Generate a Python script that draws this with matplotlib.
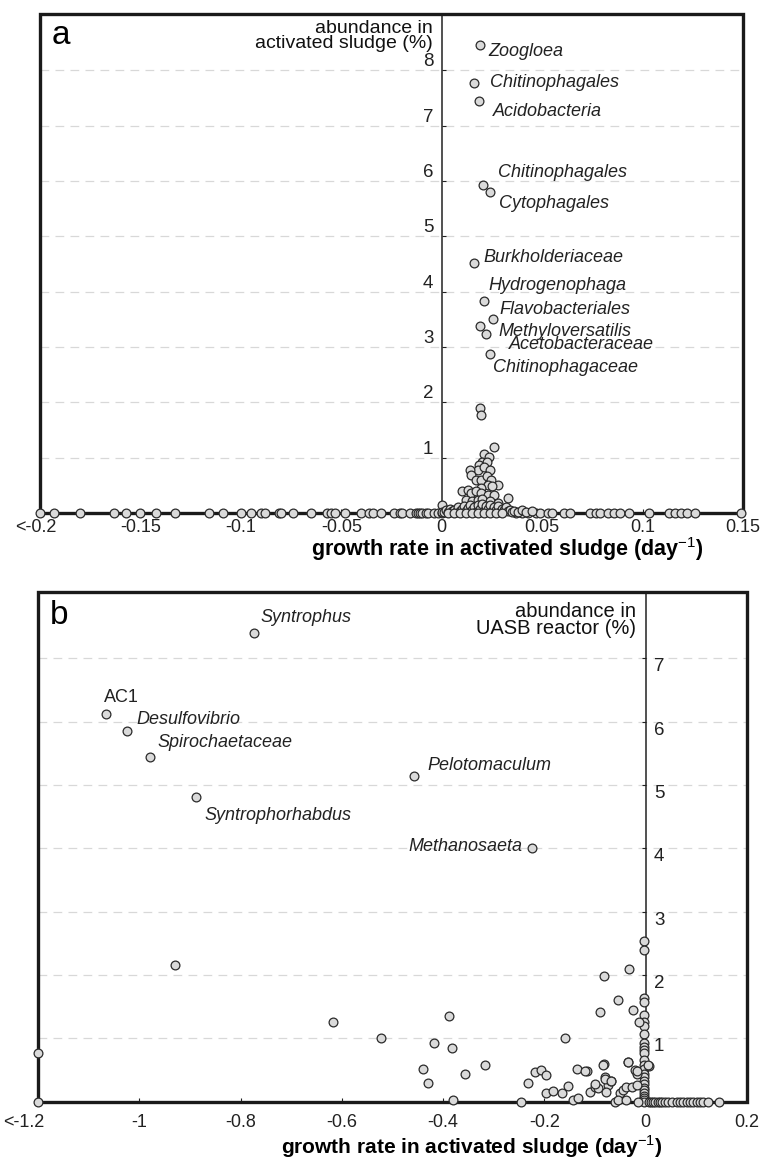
import matplotlib
matplotlib.use('Agg')
import matplotlib.pyplot as plt
from matplotlib.patches import Rectangle
from matplotlib.transforms import ScaledTranslation

plt.rcParams['font.family'] = ['Liberation Sans', 'DejaVu Sans']
plt.rcParams['mathtext.fontset'] = 'custom'
plt.rcParams['mathtext.rm'] = 'Liberation Sans'
plt.rcParams['mathtext.bf'] = 'Liberation Sans:bold'

# ---------------- panel a: activated sludge ----------------
# taxa sitting on the x axis (abundance ~ 0)
a_axis_rate = [-0.200, -0.193, -0.180, -0.163, -0.157, -0.150, -0.142, -0.133, -0.116, -0.109,
               -0.100, -0.095, -0.090, -0.088, -0.081, -0.080, -0.074, -0.065, -0.057, -0.055,
               -0.053, -0.048, -0.040, -0.036, -0.034, -0.030, -0.024, -0.021, -0.020, -0.016,
               -0.013, -0.012, -0.011, -0.010, -0.008, -0.007, -0.004, -0.002, 0.0, 0.037,
               0.040, 0.043, 0.047, 0.049, 0.053, 0.055, 0.061, 0.064, 0.074, 0.077,
               0.079, 0.083, 0.086, 0.089, 0.093, 0.103, 0.113, 0.116, 0.119, 0.122,
               0.126, 0.149]
a_axis_abund = [0.0] * len(a_axis_rate)

# small unlabeled taxa around zero
a_rate = [0.019, 0.0195, 0.026, 0.021, 0.0236, 0.0203, 0.0224, 0.0186, 0.018, 0.021,
          0.024, 0.014, 0.0148, 0.017, 0.0194, 0.0224, 0.0244, 0.0228, 0.0194, 0.028,
          0.025, 0.010, 0.013, 0.0148, 0.017, 0.0194, 0.0228, 0.026, 0.033, 0.012,
          0.015, 0.018, 0.0203, 0.024, 0.028, 0.0, 0.0,
          0.001, 0.002, 0.003, 0.004, 0.005, 0.006, 0.007, 0.008, 0.009, 0.010,
          0.011, 0.012, 0.013, 0.014, 0.015, 0.016, 0.017, 0.018, 0.019, 0.020,
          0.021, 0.022, 0.023, 0.024, 0.025, 0.026, 0.027, 0.028, 0.029, 0.030,
          0.031, 0.032, 0.033, 0.034, 0.035, 0.036, 0.038, 0.040, 0.042, 0.045,
          0.003, 0.006, 0.009, 0.012, 0.015, 0.018, 0.021, 0.024, 0.027, 0.030]
a_abund = [1.89, 1.78, 1.19, 1.07, 1.02, 0.93, 0.93, 0.87, 0.78, 0.83,
           0.78, 0.78, 0.69, 0.60, 0.60, 0.66, 0.60, 0.51, 0.45, 0.51,
           0.48, 0.40, 0.41, 0.36, 0.40, 0.36, 0.33, 0.33, 0.28, 0.235,
           0.21, 0.235, 0.26, 0.21, 0.175, 0.14, 0.02,
           0.02, 0.05, 0.01, 0.08, 0.03, 0.06, 0.02, 0.10, 0.04, 0.07,
           0.12, 0.03, 0.09, 0.15, 0.05, 0.11, 0.02, 0.14, 0.07, 0.17,
           0.04, 0.12, 0.08, 0.15, 0.03, 0.10, 0.06, 0.12, 0.02, 0.08,
           0.05, 0.10, 0.03, 0.06, 0.02, 0.04, 0.02, 0.05, 0.01, 0.03,
           0.0, 0.0, 0.0, 0.0, 0.0, 0.0, 0.0, 0.0, 0.0, 0.0]

a_taxa = ['Zoogloea', 'Chitinophagales', 'Acidobacteria', 'Chitinophagales', 'Cytophagales',
          'Burkholderiaceae', 'Hydrogenophaga', 'Flavobacteriales', 'Methyloversatilis',
          'Acetobacteraceae', 'Chitinophagaceae']
a_taxa_rate = [0.019, 0.016, 0.0185, 0.0204, 0.024, 0.016, 0.021, 0.0254, 0.019, 0.022, 0.024]
a_taxa_abund = [8.46, 7.78, 7.45, 5.93, 5.80, 4.52, 3.83, 3.51, 3.38, 3.24, 2.88]
a_label_offset = [(5.8, -5), (11.5, 0), (10, -8), (11, 8.6), (6.5, -8), (7, 3.6),
                  (3, 11.5), (5, 6.5), (13.7, -4.3), (16.5, -8), (2, -10)]

a_xticks = [-0.2, -0.15, -0.1, -0.05, 0, 0.05, 0.1, 0.15]
a_xticklabels = ['<-0.2', '-0.15', '-0.1', '-0.05', '0', '0.05', '0.1', '0.15']
a_yticks = [1, 2, 3, 4, 5, 6, 7, 8]

# ---------------- panel b: UASB reactor ----------------
b_axis_col_abund = [2.54, 2.39, 1.63, 1.57, 1.37, 1.25, 1.20, 1.07, 0.92, 0.86, 0.81, 0.76,
                    0.65, 0.57, 0.52, 0.44, 0.39, 0.33, 0.28, 0.22, 0.18, 0.13, 0.09, 0.05,
                    0.02, 0.0]
b_axis_col_rate = [-0.003] * len(b_axis_col_abund)

b_pos_rate = [0.006, 0.011, 0.014, 0.019, 0.024, 0.029, 0.033, 0.038, 0.044, 0.051,
              0.061, 0.067, 0.073, 0.081, 0.087, 0.093, 0.101, 0.107, 0.113, 0.123, 0.144]
b_pos_abund = [0.0] * len(b_pos_rate)

b_rate = [-1.2, -1.2, -0.93, -0.617, -0.522, -0.388, -0.418, -0.382, -0.439, -0.43,
          -0.356, -0.317, -0.38, -0.247, -0.232, -0.219, -0.207, -0.196, -0.196, -0.183,
          -0.166, -0.153, -0.16, -0.143, -0.134, -0.136, -0.116, -0.110, -0.101, -0.094,
          -0.101, -0.083, -0.081, -0.074, -0.068, -0.078, -0.119, -0.084, -0.081, -0.069,
          -0.082, -0.033, -0.055, -0.091, -0.025, -0.013, -0.035, -0.022, -0.018, 0.007,
          -0.061, -0.051, -0.045, -0.038, -0.028, -0.018, -0.055, -0.038, -0.015, -0.034,
          -0.018, 0.005]
b_abund = [0.77, 0.0, 2.15, 1.25, 1.01, 1.35, 0.92, 0.84, 0.52, 0.30,
           0.43, 0.57, 0.03, 0.0, 0.29, 0.46, 0.49, 0.42, 0.14, 0.17,
           0.13, 0.24, 1.00, 0.03, 0.05, 0.52, 0.48, 0.15, 0.23, 0.21,
           0.28, 0.59, 0.38, 0.26, 0.33, 0.15, 0.48, 0.58, 0.36, 0.32,
           1.98, 2.10, 1.61, 1.41, 1.44, 1.25, 0.63, 0.49, 0.44, 0.56,
           0.0, 0.13, 0.18, 0.23, 0.23, 0.26, 0.02, 0.02, 0.0, 0.63,
           0.48, 0.57]

b_taxa = ['Syntrophus', 'AC1', 'Desulfovibrio', 'Spirochaetaceae', 'Pelotomaculum',
          'Syntrophorhabdus', 'Methanosaeta']
b_taxa_italic = [True, False, True, True, True, True, True]
b_taxa_rate = [-0.774, -1.066, -1.024, -0.979, -0.458, -0.888, -0.225]
b_taxa_abund = [7.41, 6.13, 5.85, 5.44, 5.14, 4.81, 4.00]
b_label_offset = [(5, 11), (-1.4, 11.5), (6.5, 8.6), (5.8, 10.8), (10, 8), (5.8, -13), (-7, 1.4)]

b_xticks = [-1.2, -1.0, -0.8, -0.6, -0.4, -0.2, 0, 0.2]
b_xticklabels = ['<-1.2', '-1', '-0.8', '-0.6', '-0.4', '-0.2', '0', '0.2']
b_yticks = [1, 2, 3, 4, 5, 6, 7]

xlabel = 'growth rate in activated sludge (day$^{-1}$)'

fig = plt.figure(figsize=(7.65, 11.6), dpi=100)
W, H = 765.0, 1160.0
ax_a = fig.add_axes([40 / W, 1 - 513 / H, 703 / W, 499 / H])
ax_b = fig.add_axes([38 / W, 1 - 1101.5 / H, 709 / W, 509.5 / H])

dot = dict(s=40, facecolor='#dadada', edgecolor='#2a2a2a', linewidths=0.9, clip_on=False, zorder=5)


def style_axes(ax, xticks, xticklabels, yticks, ylim, ypos, xpad):
    ax.set_xlim(xticks[0], xticks[-1])
    ax.set_ylim(0, ylim)
    for s in ['top', 'bottom', 'left', 'right']:
        ax.spines[s].set_visible(False)
    # y axis drawn at growth rate = 0
    sp = ax.spines[ypos]
    sp.set_visible(True)
    sp.set_position(('data', 0))
    sp.set_linewidth(1.1)
    sp.set_color('#222222')
    if ypos == 'left':
        ax.yaxis.set_ticks_position('left')
    else:
        ax.yaxis.set_ticks_position('right')
    ax.set_yticks(yticks)
    ax.set_yticklabels([str(v) for v in yticks])
    ax.tick_params(axis='y', direction='in', length=3, width=0.8, labelsize=13.5, pad=6,
                   colors='#222222')
    ax.set_xticks(xticks)
    ax.set_xticklabels(xticklabels)
    ax.tick_params(axis='x', direction='in', length=3, width=0.8, labelsize=13, pad=xpad,
                   colors='#222222')
    for y in yticks:
        ax.axhline(y, color='#d8d8d8', lw=0.9, ls=(0, (7, 5)), zorder=0)
    ax.add_patch(Rectangle((0, 0), 1, 1, transform=ax.transAxes, fill=False,
                           lw=2.4, edgecolor='#1a1a1a', clip_on=False, zorder=4))


# panel a
style_axes(ax_a, a_xticks, a_xticklabels, a_yticks, 9.02, 'left', 4)
for lab in ax_a.get_yticklabels():
    lab.set_verticalalignment('bottom')
first = ax_a.get_xticklabels()[0]
first.set_transform(first.get_transform() + ScaledTranslation(-4 / 100, 0, fig.dpi_scale_trans))
ax_a.scatter(a_axis_rate, a_axis_abund, **dot)
ax_a.scatter(a_rate, a_abund, **dot)
ax_a.scatter(a_taxa_rate, a_taxa_abund, **dot)
for name, x, y, off in zip(a_taxa, a_taxa_rate, a_taxa_abund, a_label_offset):
    ax_a.annotate(name, (x, y), xytext=off, textcoords='offset points', fontsize=13,
                  style='italic', ha='left', va='center', color='#222222')
ax_a.annotate('abundance in\nactivated sludge (%)', xy=(0, 1), xycoords=('data', 'axes fraction'),
              xytext=(-6.5, -4), textcoords='offset points', ha='right', va='top',
              fontsize=14, linespacing=0.86, color='#111111')
ax_a.text(0.017, 0.988, 'a', transform=ax_a.transAxes, fontsize=24, va='top', ha='left')
fig.text(507 / W, 1 - 549 / H, xlabel, ha='center', va='center', fontsize=15.5, fontweight='bold')

# panel b
style_axes(ax_b, b_xticks, b_xticklabels, b_yticks, 8.05, 'right', 9)
for lab in ax_b.get_yticklabels():
    lab.set_verticalalignment('top')
first = ax_b.get_xticklabels()[0]
first.set_transform(first.get_transform() + ScaledTranslation(-14 / 100, 0, fig.dpi_scale_trans))
ax_b.scatter(b_axis_col_rate, b_axis_col_abund, **dot)
ax_b.scatter(b_pos_rate, b_pos_abund, **dot)
ax_b.scatter(b_rate, b_abund, **dot)
ax_b.scatter(b_taxa_rate, b_taxa_abund, **dot)
for name, it, x, y, off in zip(b_taxa, b_taxa_italic, b_taxa_rate, b_taxa_abund, b_label_offset):
    ax_b.annotate(name, (x, y), xytext=off, textcoords='offset points', fontsize=13,
                  style='italic' if it else 'normal', ha='right' if off[0] < -3 else 'left',
                  va='center', color='#222222')
ax_b.annotate('abundance in\nUASB reactor (%)', xy=(0, 1), xycoords=('data', 'axes fraction'),
              xytext=(-7, -7), textcoords='offset points', ha='right', va='top',
              fontsize=14.5, linespacing=0.88, color='#111111')
ax_b.text(0.017, 0.985, 'b', transform=ax_b.transAxes, fontsize=24, va='top', ha='left')
fig.text(472 / W, 1 - 1147 / H, xlabel, ha='center', va='center', fontsize=15, fontweight='bold')

fig.savefig('out.png', dpi=100)
